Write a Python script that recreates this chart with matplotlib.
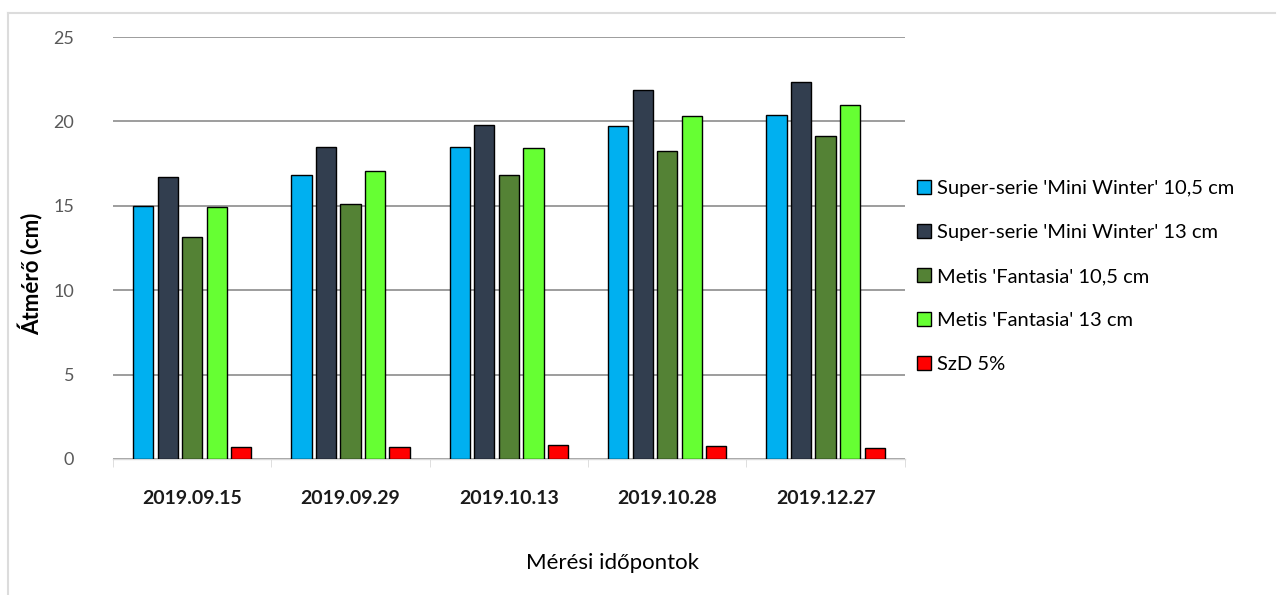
import numpy as np
import matplotlib
matplotlib.use("Agg")
from matplotlib import pyplot as plt
from matplotlib.lines import Line2D

plt.rcParams['font.family'] = ['Lato', 'DejaVu Sans']

dates = ["2019.09.15", "2019.09.29", "2019.10.13", "2019.10.28", "2019.12.27"]
series_names = ["Super-serie 'Mini Winter' 10,5 cm",
                "Super-serie 'Mini Winter' 13 cm",
                "Metis 'Fantasia' 10,5 cm",
                "Metis 'Fantasia' 13 cm",
                "SzD 5%"]
mini_winter_105 = [15.0, 16.8, 18.5, 19.7, 20.35]
mini_winter_13 = [16.7, 18.5, 19.8, 21.85, 22.35]
fantasia_105 = [13.15, 15.1, 16.8, 18.25, 19.15]
fantasia_13 = [14.9, 17.05, 18.4, 20.3, 21.0]
szd5 = [0.7, 0.7, 0.8, 0.75, 0.65]
colors = ["#00B0F0", "#323E4F", "#548235", "#66FF33", "#FF0000"]

fig = plt.figure(figsize=(12.77, 5.95), dpi=100)
ax = fig.add_axes([0.0885, 0.2286, 0.620, 0.7092])

x = np.arange(len(dates))
slot = 0.155
width = 0.128
all_series = [mini_winter_105, mini_winter_13, fantasia_105, fantasia_13, szd5]
for i, vals in enumerate(all_series):
    ax.bar(x + (i - 2) * slot, vals, width=width, color=colors[i],
           edgecolor="black", linewidth=1.0, label=series_names[i], zorder=3)

ax.set_xlim(-0.5, len(dates) - 0.5)
ax.set_ylim(0, 25)
ax.set_yticks([0, 5, 10, 15, 20, 25])
ax.yaxis.grid(True, color="#8c8c8c", linewidth=1.2, zorder=0)
for s in ["top", "right", "left"]:
    ax.spines[s].set_visible(False)
ax.spines["bottom"].set_color("#d9d9d9")
ax.spines["bottom"].set_linewidth(1.0)

ax.set_xticks(x)
ax.set_xticklabels(dates, fontsize=14, fontweight="bold", color="#1a1a1a")
ax.tick_params(axis="x", length=0, pad=22)
ax.set_xticks(np.arange(-0.5, len(dates), 1), minor=True)
ax.tick_params(axis="x", which="minor", length=6, color="#d9d9d9")
ax.tick_params(axis="y", length=0, pad=28, labelsize=13, labelcolor="#595959")

ax.set_ylabel("Átmérő (cm)", fontsize=16, fontweight="bold")
ax.yaxis.set_label_coords(-0.088, 0.44)
ax.set_xlabel("Mérési időpontok", fontsize=16)
ax.xaxis.set_label_coords(0.631, -0.246)
ax.xaxis.label.set_va("center")

ax.legend(loc="upper left", bbox_to_anchor=(1.005, 0.68), frameon=False,
          fontsize=14.5, handlelength=0.7, handleheight=0.7,
          handletextpad=0.3, labelspacing=1.33, borderaxespad=0)

# light frame around the figure
fig.add_artist(Line2D([8 / 1277, 1275 / 1277], [1 - 13 / 595, 1 - 13 / 595],
                      color="#dcdcdc", linewidth=1.5, transform=fig.transFigure))
fig.add_artist(Line2D([8 / 1277, 8 / 1277], [0, 1 - 13 / 595],
                      color="#dcdcdc", linewidth=1.5, transform=fig.transFigure))

fig.savefig("out.png", dpi=100)
